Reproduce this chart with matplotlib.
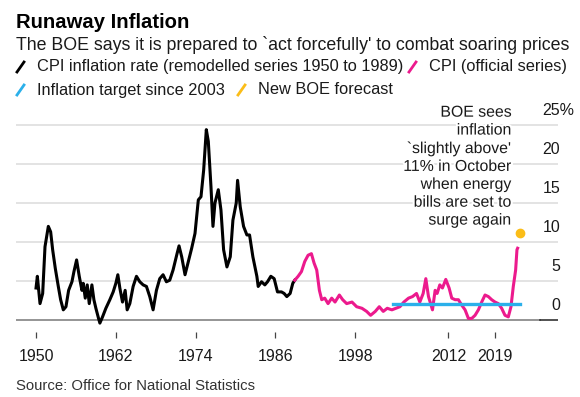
import matplotlib

matplotlib.use("Agg")
import matplotlib.pyplot as plt
import matplotlib.patheffects as pe
from matplotlib.lines import Line2D
from matplotlib.transforms import offset_copy

# CPI inflation rate, remodelled series 1950 to 1989 (%)
remodelled_years = [
    1950.0, 1950.2, 1950.6, 1951.0, 1951.35, 1951.85, 1952.2, 1952.5, 1952.9,
    1953.35, 1953.7, 1954.1, 1954.5, 1954.9, 1955.4, 1955.7, 1956.1, 1956.5,
    1956.9, 1957.1, 1957.4, 1957.7, 1958.0, 1958.4, 1958.7, 1959.0, 1959.4,
    1959.6, 1960.0, 1960.5, 1961.1, 1961.6, 1962.0, 1962.3, 1962.6, 1963.0,
    1963.4, 1963.7, 1964.1, 1964.6, 1965.1, 1965.6, 1966.1, 1966.6, 1967.1,
    1967.6, 1968.1, 1968.6, 1969.1, 1969.6, 1970.1, 1970.6, 1971.2, 1971.5,
    1971.9, 1972.4, 1972.9, 1973.4, 1973.9, 1974.4, 1974.8, 1975.2, 1975.6,
    1975.9, 1976.3, 1976.6, 1976.9, 1977.4, 1977.8, 1978.2, 1978.7, 1979.2,
    1979.6, 1980.1, 1980.3, 1980.7, 1981.2, 1981.7, 1982.1, 1982.6, 1983.2,
    1983.4, 1983.9, 1984.4, 1984.8, 1985.3, 1985.8, 1986.3, 1986.9, 1987.3,
    1987.7, 1988.2, 1988.6, 1988.9,
]
remodelled_cpi = [
    4.1, 5.6, 2.1, 3.4, 9.4, 12.0, 11.3, 9.0, 6.6,
    4.3, 2.6, 1.3, 1.7, 3.8, 4.9, 6.2, 7.7, 5.6,
    3.8, 4.7, 2.8, 4.5, 2.1, 4.5, 2.6, 1.5, 0.2,
    -0.4, 0.4, 1.5, 2.6, 3.6, 4.7, 5.8, 4.1, 2.3,
    3.8, 1.3, 2.1, 4.3, 5.6, 4.9, 4.5, 4.3, 3.0,
    1.3, 3.8, 5.3, 5.8, 4.9, 5.1, 6.4, 8.5, 9.5,
    8.1, 5.8, 7.5, 9.2, 11.1, 15.4, 15.8, 19.2, 24.4,
    22.9, 17.1, 12.0, 15.0, 16.7, 14.1, 9.0, 6.8, 8.1,
    12.8, 15.0, 17.9, 14.5, 12.0, 10.9, 10.9, 8.1, 5.6,
    4.3, 4.9, 4.5, 4.9, 5.6, 5.3, 3.6, 3.6, 3.4,
    3.0, 3.4, 4.7, 5.1,
]

# CPI, official series (%)
official_years = [
    1988.9, 1989.4, 1989.9, 1990.4, 1990.9, 1991.4, 1991.8, 1992.2, 1992.6,
    1992.95, 1993.4, 1993.9, 1994.45, 1994.95, 1995.6, 1996.1, 1996.7, 1997.5,
    1998.2, 1999.0, 1999.7, 2000.3, 2001.0, 2001.6, 2002.2, 2002.8, 2003.5,
    2004.1, 2004.7, 2005.3, 2006.0, 2006.6, 2007.2, 2007.7, 2008.2, 2008.6,
    2009.0, 2009.6, 2010.0, 2010.3, 2010.7, 2011.1, 2011.6, 2012.1, 2012.5,
    2013.0, 2013.5, 2014.0, 2014.5, 2015.0, 2015.5, 2016.0, 2016.5, 2017.0,
    2017.5, 2018.0, 2018.5, 2019.0, 2019.5, 2020.0, 2020.5, 2021.0, 2021.4,
    2021.75, 2022.1, 2022.3, 2022.4,
]
official_cpi = [
    5.1, 5.6, 6.2, 7.5, 8.3, 8.5, 7.3, 6.4, 3.8,
    2.6, 2.8, 2.1, 2.8, 2.3, 3.2, 2.6, 2.1, 2.3,
    1.7, 1.5, 1.1, 0.6, 1.1, 1.7, 1.1, 1.5, 1.3,
    1.5, 1.7, 2.3, 2.8, 3.0, 3.4, 2.3, 3.4, 5.3,
    3.0, 1.3, 3.8, 3.4, 4.5, 4.1, 5.2, 4.1, 2.8,
    2.6, 2.6, 1.9, 1.3, 0.2, 0.2, 0.6, 1.3, 2.3,
    3.2, 3.0, 2.6, 2.3, 2.1, 1.5, 0.6, 0.4, 1.7,
    4.3, 6.4, 9.0, 9.2,
]

# Inflation target since 2003 (%)
target_years = [2003.7, 2022.8]
target_cpi = [2.0, 2.0]

# New BOE forecast for October 2022 (%)
forecast_year = [2022.75]
forecast_cpi = [11.2]

x_ticks = [1950, 1962, 1974, 1986, 1998, 2012, 2019]
y_ticks = [0, 5, 10, 15, 20, 25]

black = "#000000"
pink = "#ec1a8d"
blue = "#2bb0ea"
yellow = "#fbbd18"
grid_color = "#e1e1e1"
text_color = "#1a1a1a"
font = "Liberation Sans"

plt.rcParams["font.family"] = font

W, H = 580, 397
fig = plt.figure(figsize=(W / 100, H / 100), dpi=100, facecolor="white")


def px(x, y):
    return x / W, 1 - y / H


ax = fig.add_axes([16 / W, 1 - 332 / H, (558 - 16) / W, (332 - 100) / H])
ax.set_xlim(1946.99, 2028.47)
ax.set_ylim(-1.54, 28.2)

for v in y_ticks[1:]:
    ax.axhline(v, color=grid_color, linewidth=1.3, zorder=0)
ax.axhline(0, xmax=(540 - 16) / (558 - 16), color="#8c8c8c", linewidth=1.3, zorder=1)
ax.axhline(0, xmin=(540 - 16) / (558 - 16), color="#222222", linewidth=1.1, zorder=1)

ax.plot(remodelled_years, remodelled_cpi, color=black, linewidth=2.2,
        solid_joinstyle="round", zorder=3)
ax.plot(official_years, official_cpi, color=pink, linewidth=2.2,
        solid_joinstyle="round", zorder=3)
ax.plot(target_years, target_cpi, color=blue, linewidth=2.4, zorder=4)
ax.plot(forecast_year, forecast_cpi, "o", color=yellow, markersize=6, zorder=5)

for s in ax.spines.values():
    s.set_visible(False)
ax.set_yticks([])
ax.set_xticks(x_ticks)
ax.set_xticklabels([str(t) for t in x_ticks], fontsize=11.5, color=text_color)
ax.tick_params(axis="x", length=4.5, width=0.9, color="#444444", pad=8)

# y labels sit above their gridlines, on the right
label_trans = offset_copy(ax.get_yaxis_transform(), fig=fig, y=14, units="dots")
for v in y_ticks[:-1]:
    ax.text(1.0037, v, str(v), transform=label_trans, ha="right", va="center",
            fontsize=11.5, color=text_color)
ax.text(0.9705, y_ticks[-1], f"{y_ticks[-1]}%", transform=label_trans, ha="left",
        va="center", fontsize=11.5, color=text_color)

ax.text(
    2021.5, 27.6,
    "BOE sees\ninflation\n`slightly above'\n11% in October\nwhen energy\nbills are set to\nsurge again",
    ha="right", va="top", fontsize=11.4, linespacing=1.24, color=text_color,
    path_effects=[pe.withStroke(linewidth=3, foreground="white")], zorder=6,
)

# header
fig.text(*px(16, 22), "Runaway Inflation", fontsize=14.6, fontweight="bold",
         color="black", va="center")
fig.text(*px(16, 45), "The BOE says it is prepared to `act forcefully' to combat soaring prices",
         fontsize=12.75, color=text_color, va="center")

legend_items = [
    (black, "CPI inflation rate (remodelled series 1950 to 1989)", 17, 67),
    (pink, "CPI (official series)", 409, 67),
    (blue, "Inflation target since 2003", 17, 90),
    (yellow, "New BOE forecast", 238, 90),
]
for color, label, x0, y0 in legend_items:
    fig.add_artist(Line2D([x0 / W, (x0 + 7) / W], [1 - (y0 + 5) / H, 1 - (y0 - 5) / H],
                          color=color, linewidth=2, transform=fig.transFigure))
    fig.text(*px(x0 + 20, y0), label, fontsize=11.75, color=text_color, va="center")

fig.text(*px(16, 386), "Source: Office for National Statistics", fontsize=10.7,
         color="#333333", va="center")

plt.savefig("out.png", dpi=100, facecolor="white")
plt.close()
